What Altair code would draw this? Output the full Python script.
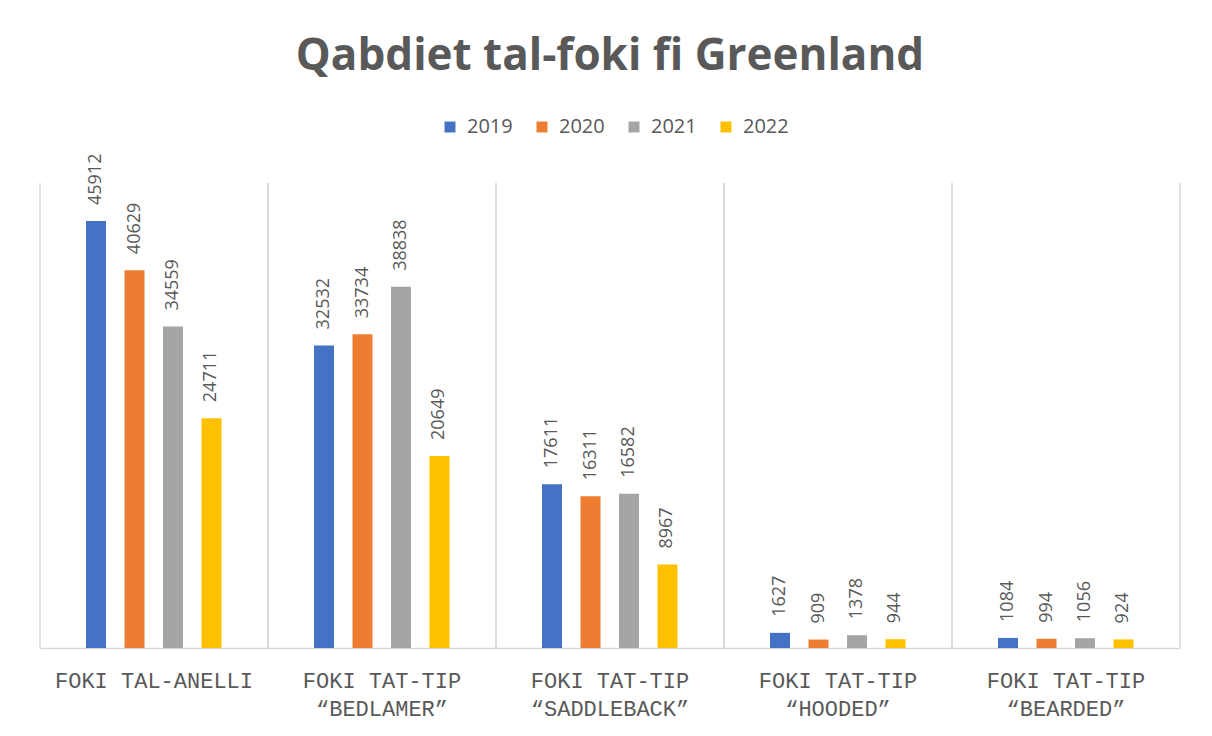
import altair as alt
import pandas as pd

categories = [
    "FOKI TAL-ANELLI",
    "FOKI TAT-TIP\n“BEDLAMER”",
    "FOKI TAT-TIP\n“SADDLEBACK”",
    "FOKI TAT-TIP\n“HOODED”",
    "FOKI TAT-TIP\n“BEARDED”",
]
years = ["2019", "2020", "2021", "2022"]
v2019 = [45912, 32532, 17611, 1627, 1084]
v2020 = [40629, 33734, 16311, 909, 994]
v2021 = [34559, 38838, 16582, 1378, 1056]
v2022 = [24711, 20649, 8967, 944, 924]
colors = ["#4472C4", "#ED7D31", "#A5A5A5", "#FFC000"]

rows = []
for yr, vals in zip(years, [v2019, v2020, v2021, v2022]):
    for c, v in zip(categories, vals):
        rows.append({"category": c, "year": yr, "value": v})
df = pd.DataFrame(rows)
cats = pd.DataFrame({"category": categories})

GRAY = "#595959"
LINE = "#d9d9d9"

xscale = alt.Scale(domain=categories, paddingInner=0, paddingOuter=0)
oscale = alt.Scale(domain=years, paddingInner=0.48, paddingOuter=0, range=[46, 181.5])
xaxis = alt.Axis(
    title=None, labelAngle=0, ticks=False, grid=False,
    domainColor=LINE, domainWidth=1.5,
    labelExpr="split(datum.label, '\\n')",
    labelAlign="center", labelBaseline="top", labelLimit=400,
    labelFont="Liberation Mono", labelFontSize=22, labelColor=GRAY,
    labelPadding=22, labelLineHeight=28,
)
yscale = alt.Scale(domain=[0, 50000])

bars = alt.Chart(df).mark_bar().encode(
    x=alt.X("category:N", scale=xscale, axis=xaxis, sort=categories),
    xOffset=alt.XOffset("year:N", scale=oscale),
    y=alt.Y("value:Q", scale=yscale, axis=None),
    color=alt.Color(
        "year:N",
        scale=alt.Scale(domain=years, range=colors),
        legend=alt.Legend(
            title=None, orient="none", direction="horizontal",
            legendX=400, legendY=-66,
            symbolType="square", symbolSize=120, symbolStrokeWidth=0,
            labelFont="Open Sans", labelFontSize=20, labelColor=GRAY,
            labelOffset=7, columnPadding=19,
        ),
    ),
)

labels = alt.Chart(df).mark_text(
    angle=270, align="left", baseline="middle", dx=16,
    font="Open Sans", fontSize=18, color=GRAY,
).encode(
    x=alt.X("category:N", scale=xscale, sort=categories),
    xOffset=alt.XOffset("year:N", scale=oscale),
    y=alt.Y("value:Q", scale=yscale),
    text=alt.Text("value:Q", format="d"),
)

sep_left = alt.Chart(cats).mark_rule(color=LINE, strokeWidth=1.5).encode(
    x=alt.X("category:N", scale=xscale, axis=xaxis, sort=categories, bandPosition=0)
)
sep_right = alt.Chart(cats).mark_rule(color=LINE, strokeWidth=1.5).encode(
    x=alt.X("category:N", scale=xscale, axis=xaxis, sort=categories, bandPosition=1)
)

chart = alt.layer(sep_left, sep_right, bars, labels).properties(
    width=1140, height=465,
    autosize=alt.AutoSizeParams(type="none"),
    padding={"left": 32, "top": 175, "right": 24, "bottom": 80},
    title=alt.TitleParams(
        "Qabdiet tal-foki fi Greenland", font="Open Sans", fontSize=44,
        fontWeight="bold", color=GRAY, anchor="middle", offset=38,
    ),
).configure_view(stroke=None)

chart.save("out.html", embed_options={"renderer": "svg", "actions": False})
